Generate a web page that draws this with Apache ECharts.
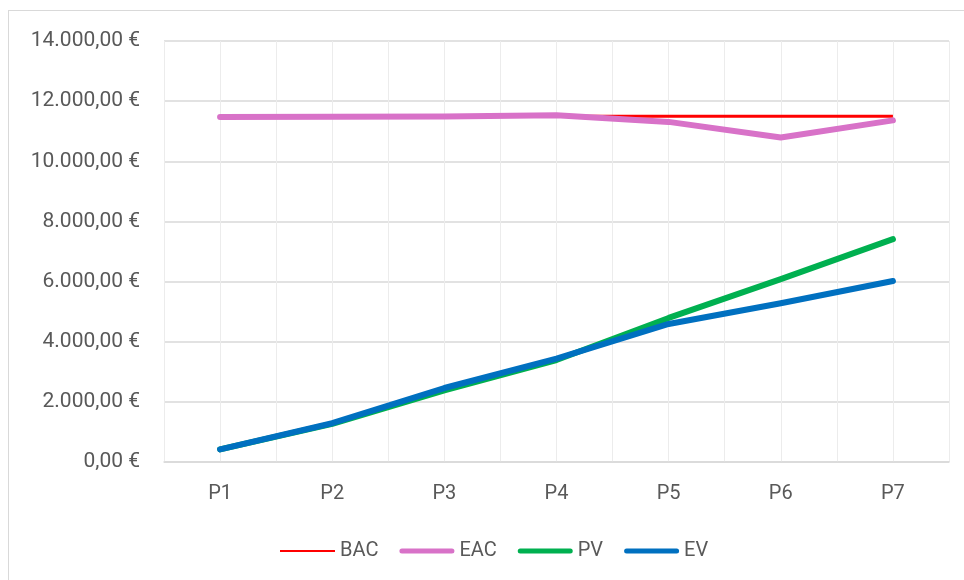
<!DOCTYPE html>
<html>
<head>
<meta charset="utf-8">
<script src="https://cdn.jsdelivr.net/npm/echarts@6/dist/echarts.min.js"></script>
<style>
html,body{margin:0;padding:0;background:#fff;}
#frame{position:absolute;left:8px;top:10px;width:1000px;height:600px;border:1px solid #d9d9d9;box-sizing:border-box;}
#chart{position:absolute;left:0;top:0;width:964px;height:580px;}
</style>
</head>
<body>
<div id="frame"></div>
<div id="chart"></div>
<script>
const categories = ['P1','P2','P3','P4','P5','P6','P7'];
const bac = [11500, 11500, 11500, 11500, 11500, 11500, 11500];
const eac = [11470, 11480, 11490, 11530, 11310, 10790, 11360];
const pv  = [420, 1270, 2380, 3390, 4790, 6080, 7410];
const ev  = [420, 1290, 2460, 3440, 4590, 5280, 6020];
const yTicks = [0, 2000, 4000, 6000, 8000, 10000, 12000, 14000];
const seriesNames = ['BAC','EAC','PV','EV'];

const fmt = v => {
  const parts = v.toFixed(2).split('.');
  const intPart = parts[0].replace(/\B(?=(\d{3})+(?!\d))/g, '.');
  return intPart + ',' + parts[1] + '\u00a0€';
};

const thinIcon  = 'path://M0,0M0,6L55,6L55,8L0,8ZM55,14';
const thickIcon = 'path://M0,0M2.5,4.5L52.5,4.5A2.5,2.5,0,0,1,52.5,9.5L2.5,9.5A2.5,2.5,0,0,1,2.5,4.5ZM55,14';

const chart = echarts.init(document.getElementById('chart'), null, {renderer:'canvas'});
const font = 'Roboto';
chart.setOption({
  animation:false,
  backgroundColor:'transparent',
  grid:{left:164, right:15, top:41, bottom:118},
  legend:{
    bottom:14, left:275,
    itemWidth:55, itemHeight:14, itemGap:21,
    textStyle:{color:'#595959', fontSize:20, fontFamily:font},
    data:[
      {name:seriesNames[0], icon:thinIcon},
      {name:seriesNames[1], icon:thickIcon},
      {name:seriesNames[2], icon:thickIcon},
      {name:seriesNames[3], icon:thickIcon}
    ]
  },
  xAxis:[{
    type:'category', data:categories, boundaryGap:true,
    axisLine:{show:true, lineStyle:{color:'#d9d9d9', width:1.5}},
    axisTick:{show:false},
    splitLine:{show:false},
    axisLabel:{color:'#595959', fontSize:20, fontFamily:font, margin:22}
  },{
    type:'value', min:0, max:14, interval:1, show:true, position:'bottom',
    axisLine:{show:false}, axisTick:{show:false}, axisLabel:{show:false},
    splitLine:{show:true, lineStyle:{color:'#ececec', width:1}}
  }],
  yAxis:{
    type:'value', min:yTicks[0], max:yTicks[yTicks.length-1], interval:2000,
    axisLine:{show:false}, axisTick:{show:false},
    splitLine:{show:true, lineStyle:{color:'#d9d9d9', width:1.5}},
    axisLabel:{color:'#595959', fontSize:21, fontFamily:font, margin:24, formatter:fmt}
  },
  series:[
    {name:seriesNames[0], type:'line', data:bac, symbol:'none', z:3,
     itemStyle:{color:'#ff0000'}, lineStyle:{color:'#ff0000', width:3}},
    {name:seriesNames[1], type:'line', data:eac, symbol:'none', z:4,
     itemStyle:{color:'#d872c8'}, lineStyle:{color:'#d872c8', width:6, cap:'round', join:'round'}},
    {name:seriesNames[2], type:'line', data:pv, symbol:'none', z:5,
     itemStyle:{color:'#00b050'}, lineStyle:{color:'#00b050', width:6, cap:'round', join:'round'}},
    {name:seriesNames[3], type:'line', data:ev, symbol:'none', z:6,
     itemStyle:{color:'#0070c0'}, lineStyle:{color:'#0070c0', width:6, cap:'round', join:'round'}}
  ]
});
</script>
</body>
</html>
